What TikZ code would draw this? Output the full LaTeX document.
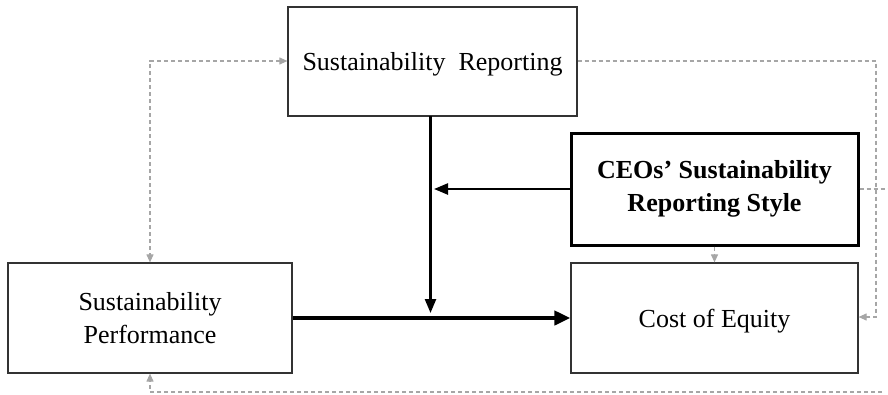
\documentclass[tikz,border=0pt]{standalone}
\usepackage{fontspec}
\setmainfont{Liberation Serif}
\usetikzlibrary{arrows.meta}
\begin{document}
\begin{tikzpicture}[x=1pt,y=-1pt,
  box/.style={draw=black!80, line width=1.2pt, rectangle, inner sep=0pt, align=center,
    minimum width=286pt, minimum height=110pt, font=\fontsize{26}{33}\selectfont},
  boldbox/.style={box, draw=black, line width=3pt, font=\fontsize{26}{33}\selectfont\bfseries},
  mainarrow/.style={line width=2.4pt, -{Triangle[length=14pt,width=11pt]}},
  thickarrow/.style={line width=4pt, -{Triangle[length=16pt,width=14pt]}},
  dashline/.style={draw=black!35, line width=1.1pt, dash pattern=on 4pt off 3pt},
  dasharrow/.style={dashline, -{Triangle[length=8pt,width=7pt,fill=black!35]}},
  dashboth/.style={dashline, {Triangle[length=8pt,width=7pt,fill=black!35]}-{Triangle[length=8pt,width=7pt,fill=black!35]}}
]
\useasboundingbox (0,0) rectangle (888,394);
\node[box, minimum width=289pt, minimum height=109pt, text depth=0pt] (sr) at (432.5,61.5) {Sustainability\ \ Reporting};
\node[box, minimum width=284pt] (sp) at (150,318) {Sustainability\\Performance};
\node[boldbox, minimum width=287pt, minimum height=112pt] (ceo) at (714.5,189) {CEOs’ Sustainability\\Reporting Style};
\node[box, minimum width=287pt, text depth=0pt] (coe) at (714.5,318) {Cost of Equity};

% solid arrows
\coordinate (vtip) at (430.5,313);
\coordinate (vtop) at (430.5,116);
\coordinate (htip) at (434,189);
\draw[mainarrow] (vtop) -- (vtip);
\draw[thickarrow] (sp.east |- 0,318) -- (coe.west |- 0,318);
\draw[mainarrow] (ceo.west) -- (htip);

% dashed
\coordinate (tl) at (150,61);
\coordinate (tr) at (876,61);
\coordinate (br) at (876,317);
\coordinate (ceor) at (888,189);
\coordinate (bl) at (150,392);
\coordinate (bend) at (882,392);
\draw[dashboth] (sr.west |- tl) -- (tl) -- (sp.north);
\draw[dasharrow] (sr.east |- tr) -- (tr) -- (br) -- (coe.east |- br);
\draw[dashline] (ceo.east) -- (ceor);
\draw[dasharrow] (ceo.south) -- (coe.north);
\draw[dasharrow] (bend) -- (bl) -- (sp.south);
\end{tikzpicture}
\end{document}
